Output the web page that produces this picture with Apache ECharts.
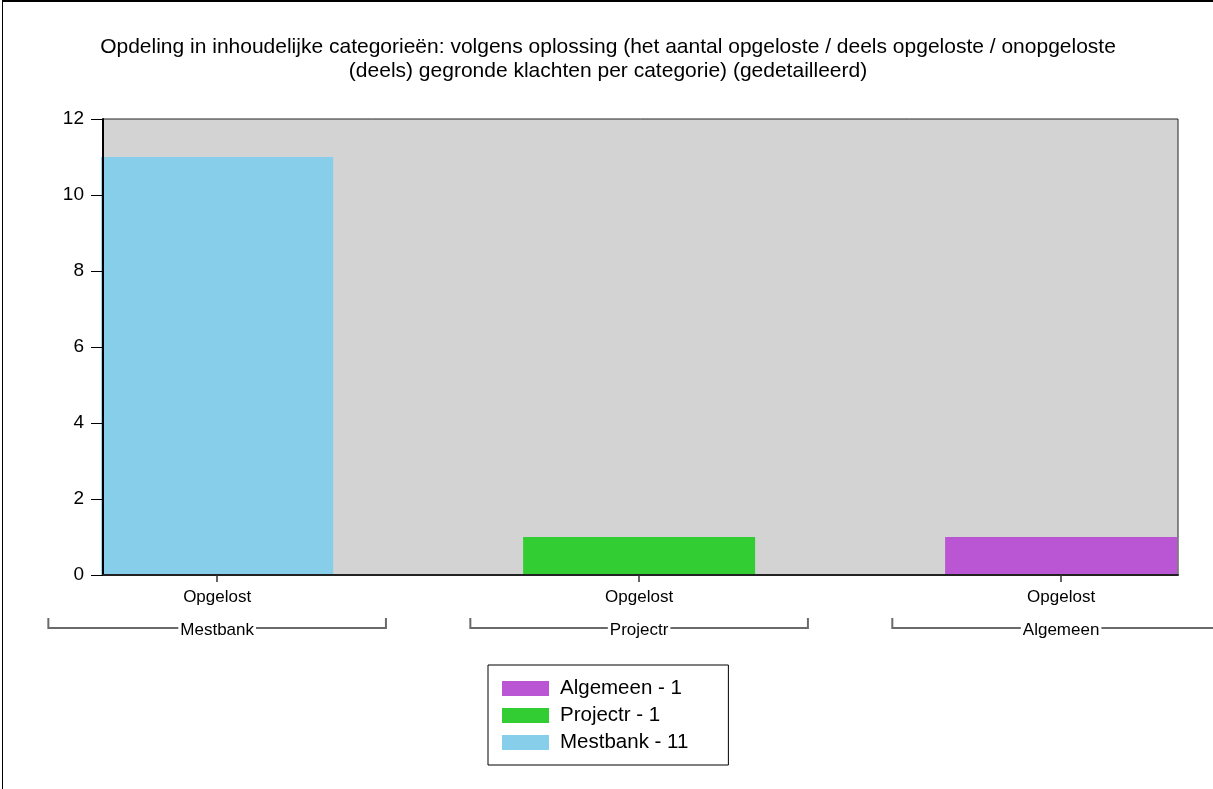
<!DOCTYPE html>
<html>
<head>
<meta charset="utf-8">
<script src="https://cdn.jsdelivr.net/npm/echarts@6/dist/echarts.min.js"></script>
<style>
  html, body { margin: 0; padding: 0; background: #fff; }
  #frame { position: absolute; left: 0; top: 0; width: 1213px; height: 789px; overflow: hidden; }
  #edge { position: absolute; left: 2px; top: 0; width: 1213px; height: 789px;
          border-left: 1px solid #000; border-top: 2px solid #000; box-sizing: border-box; }
  #chart { position: absolute; left: 0; top: 0; width: 1213px; height: 789px; }
</style>
</head>
<body>
<div id="frame">
  <div id="chart"></div>
  <div id="edge"></div>
</div>
<script>
// Complaint groups, their resolution status and the number of complaints
const groups = ['Mestbank', 'Projectr', 'Algemeen'];
const statusLabels = ['Opgelost', 'Opgelost', 'Opgelost'];
const counts = [11, 1, 1];
const groupColors = ['#87CEEB', '#32CD32', '#BA55D3'];
const yMin = 0, yMax = 12, yStep = 2;

const titleText = 'Opdeling in inhoudelijke categorieën: volgens oplossing (het aantal opgeloste / deels opgeloste / onopgeloste\n(deels) gegronde klachten per categorie) (gedetailleerd)';

const FONT = '"Liberation Sans", Arial, sans-serif';
const positions = groups.map((_, i) => i);

const chart = echarts.init(document.getElementById('chart'), null, { renderer: 'canvas' });

// one bar series per group, overlapping in the same slot
const barSeries = groups.map((g, i) => ({
  name: g,
  type: 'bar',
  data: [[positions[i], counts[i]]],
  barWidth: 232,
  barGap: '-100%',
  itemStyle: { color: groupColors[i] },
  emphasis: { disabled: true },
  z: 2
}));

// group brackets drawn under the status labels
const bracketSeries = {
  type: 'custom',
  name: 'brackets',
  coordinateSystem: 'cartesian2d',
  clip: false,
  silent: true,
  z: 5,
  data: groups.map((g, i) => [positions[i], 0]),
  renderItem: function (params, api) {
    const base = api.coord([api.value(0), 0]);
    const half = api.size([0.8, 0])[0] / 2;
    const cx = base[0];
    const yTop = base[1] + 43;
    const yLine = base[1] + 53;
    const name = groups[params.dataIndex];
    return {
      type: 'group',
      children: [
        {
          type: 'polyline',
          shape: { points: [[cx - half, yTop], [cx - half, yLine], [cx + half, yLine], [cx + half, yTop]] },
          style: { stroke: '#6a6a6a', lineWidth: 2, fill: null }
        },
        {
          type: 'text',
          x: cx, y: yLine + 2,
          style: {
            text: name, fill: '#000', font: '17px ' + FONT,
            align: 'center', verticalAlign: 'middle',
            backgroundColor: '#fff', padding: [0, 2]
          }
        }
      ]
    };
  }
};

chart.setOption({
  animation: false,
  title: {
    text: titleText,
    left: 603,
    top: 30,
    textAlign: 'center',
    textStyle: { fontFamily: FONT, fontSize: 21, fontWeight: 'normal', color: '#000', lineHeight: 24 }
  },
  grid: {
    left: 103, top: 119, right: 35, bottom: 214,
    show: true, backgroundColor: '#d3d3d3', borderColor: '#222', borderWidth: 1
  },
  legend: {
    orient: 'vertical',
    left: 488, top: 665,
    data: groups.slice().reverse(),
    icon: 'rect',
    itemWidth: 47, itemHeight: 15,
    itemGap: 6,
    padding: [13, 40, 12, 14],
    borderColor: '#000', borderWidth: 1,
    backgroundColor: '#fff',
    selectedMode: false,
    textStyle: { fontFamily: FONT, fontSize: 20.5, color: '#000', padding: [0, 0, 0, 6] },
    formatter: function (name) { return name + ' - ' + counts[groups.indexOf(name)]; }
  },
  xAxis: {
    type: 'value',
    min: -0.2705, max: 2.277,
    z: 10,
    splitLine: { show: false },
    axisLine: { show: true, onZero: false, lineStyle: { color: '#222', width: 2 } },
    axisTick: { show: true, customValues: positions, length: 7, lineStyle: { color: '#333', width: 1.5 } },
    axisLabel: {
      customValues: positions,
      margin: 14,
      fontFamily: FONT, fontSize: 17, color: '#000',
      formatter: function (v) { return statusLabels[Math.round(v)]; }
    }
  },
  yAxis: {
    type: 'value',
    min: yMin, max: yMax, interval: yStep,
    z: 10,
    splitLine: { show: false },
    axisLine: { show: true, onZero: false, lineStyle: { color: '#000', width: 2 } },
    axisTick: { show: true, length: 12, lineStyle: { color: '#000', width: 1 } },
    axisLabel: { margin: 19, fontFamily: FONT, fontSize: 19, color: '#000' }
  },
  series: barSeries.concat([bracketSeries])
});
</script>
</body>
</html>
